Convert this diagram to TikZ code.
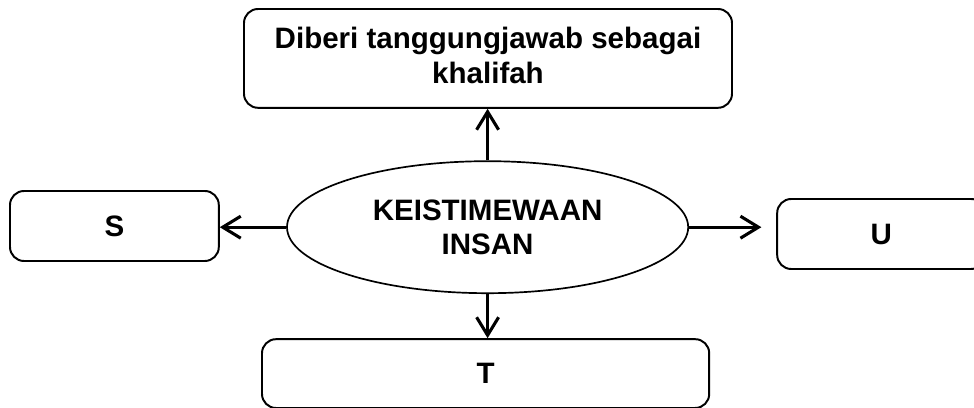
\documentclass[tikz,border=0pt]{standalone}
\usepackage{fontspec}
\setmainfont{Liberation Sans}
\usetikzlibrary{shapes.geometric,arrows.meta}

\begin{document}
\begin{tikzpicture}[
    every node/.style={font=\bfseries\fontsize{21}{24.5}\selectfont, text=black, align=center},
    box/.style={draw, line width=1.4pt, rounded corners=0.35cm, inner sep=0pt},
    link/.style={line width=2.2pt, -{Straight Barb[length=4.5mm,width=5.5mm,line width=2.2pt]}},
    ]
  \useasboundingbox (0,0) rectangle (24.35,10.2);

  \node[draw, line width=1.2pt, ellipse, minimum width=10.03cm, minimum height=3.3cm, inner sep=0pt]
      (insan) at (12.19,4.52) {KEISTIMEWAAN\\INSAN};

  \node[box, minimum width=12.2cm, minimum height=2.47cm] (khalifah) at (12.2,8.74)
      {Diberi tanggungjawab sebagai\\khalifah\vphantom{g}};
  \node[box, minimum width=5.22cm, minimum height=1.75cm] (s) at (2.86,4.55) {S};
  \node[box, minimum width=5.2cm, minimum height=1.75cm] (u) at (22.03,4.35) {U};
  \node[box, minimum width=11.18cm, minimum height=1.72cm] (t) at (12.14,0.86) {T};

  \draw[link] (insan.north) -- (insan.north |- khalifah.south);
  \draw[link] (insan.west) -- (insan.west -| s.east);
  \draw[link, shorten >=0.37cm] (insan.east) -- (insan.east -| u.west);
  \draw[link] (insan.south) -- (insan.south |- t.north);
\end{tikzpicture}
\end{document}
